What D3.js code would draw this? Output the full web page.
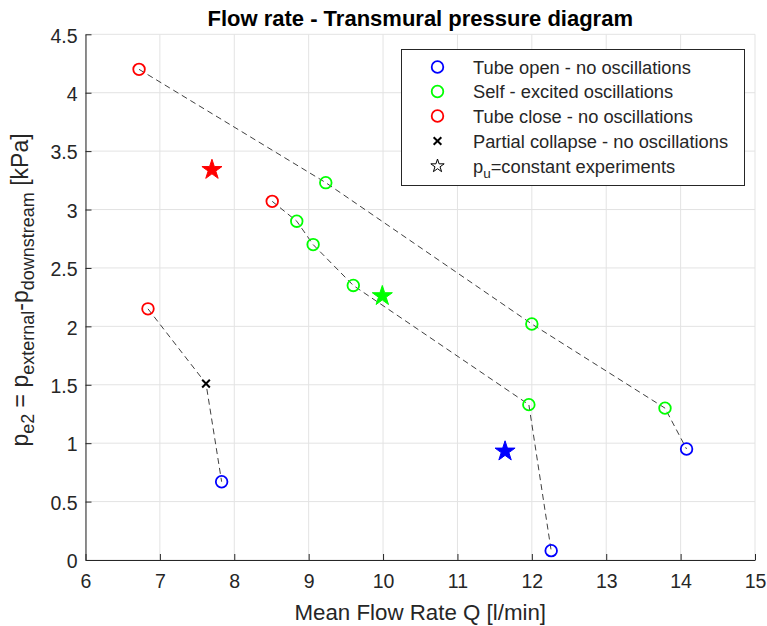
<!DOCTYPE html>
<html>
<head>
<meta charset="utf-8">
<script src="https://cdn.jsdelivr.net/npm/d3@7"></script>
<style>
  html, body { margin: 0; padding: 0; background: #fff; }
  svg { display: block; font-family: "Liberation Sans", Arial, Helvetica, sans-serif; }
</style>
</head>
<body>
<svg id="chart" width="767" height="626"></svg>
<script>
// Measurements: mean flow rate Q [l/min] and transmural pressure p_e2 [kPa]
const openQ = [7.83, 12.26, 14.08];
const openP = [0.67, 0.08, 0.95];
const selfQ = [9.23, 8.84, 9.06, 9.60, 12.00, 11.96, 13.79];
const selfP = [3.23, 2.90, 2.70, 2.35, 2.02, 1.33, 1.30];
const closeQ = [6.72, 8.51, 6.84];
const closeP = [4.20, 3.07, 2.15];
const partialQ = [7.62];
const partialP = [1.51];
const starQ = [7.70, 9.99, 11.64];
const starP = [3.34, 2.26, 0.93];
const starColors = ["#ff0000", "#00ff00", "#0000ff"];

// Dashed paths joining the points of each experiment run
const runAQ = [6.72, 9.23, 12.00, 13.79, 14.08];
const runAP = [4.20, 3.23, 2.02, 1.30, 0.95];
const runBQ = [8.51, 8.84, 9.06, 9.60, 11.96, 12.26];
const runBP = [3.07, 2.90, 2.70, 2.35, 1.33, 0.08];
const runCQ = [6.84, 7.62, 7.83];
const runCP = [2.15, 1.51, 0.67];

const xTicks = [6, 7, 8, 9, 10, 11, 12, 13, 14, 15];
const yTicks = [0, 0.5, 1, 1.5, 2, 2.5, 3, 3.5, 4, 4.5];
const yTickLabels = ["0", "0.5", "1", "1.5", "2", "2.5", "3", "3.5", "4", "4.5"];

const legendLabels = [
  "Tube open - no oscillations",
  "Self - excited oscillations",
  "Tube close - no oscillations",
  "Partial collapse - no oscillations",
  "=constant experiments"
];

const svg = d3.select("#chart");
const plotL = 85.5, plotR = 755, plotT = 34.3, plotB = 560;
const x = d3.scaleLinear().domain([6, 15]).range([plotL, plotR]);
const y = d3.scaleLinear().domain([0, 4.5]).range([plotB, plotT]);
const axisColor = "#262626";

// grid
const grid = svg.append("g");
grid.selectAll("line.vx").data(xTicks).join("line")
  .attr("x1", d => x(d)).attr("x2", d => x(d))
  .attr("y1", plotT).attr("y2", plotB)
  .attr("stroke", "#e3e3e3").attr("stroke-width", 1);
grid.selectAll("line.hy").data(yTicks).join("line")
  .attr("x1", plotL).attr("x2", plotR)
  .attr("y1", d => y(d)).attr("y2", d => y(d))
  .attr("stroke", "#e3e3e3").attr("stroke-width", 1);

// axes (ticks pointing inward)
const xAxis = svg.append("g").attr("transform", `translate(0,${plotB})`)
  .call(d3.axisBottom(x).tickValues(xTicks).tickSizeInner(-6).tickSizeOuter(0).tickPadding(14));
const yAxis = svg.append("g").attr("transform", `translate(${plotL},0)`)
  .call(d3.axisLeft(y).tickValues(yTicks).tickFormat((d, i) => yTickLabels[i]).tickSizeInner(-6).tickSizeOuter(0).tickPadding(14));
[xAxis, yAxis].forEach(g => {
  g.select(".domain").attr("stroke", axisColor).attr("stroke-width", 1);
  g.selectAll(".tick line").attr("stroke", axisColor);
  g.selectAll(".tick text").attr("fill", axisColor).style("font-size", "19.5px")
    .style("font-family", "'Liberation Sans', Arial, sans-serif");
});
yAxis.selectAll(".tick text").attr("dx", "6px").attr("dy", "0.4em");
xAxis.selectAll(".tick text").attr("dy", "0.7em");

// dashed run lines
const line = d3.line().x(d => x(d[0])).y(d => y(d[1]));
[[runAQ, runAP], [runBQ, runBP], [runCQ, runCP]].forEach(([qs, ps]) => {
  svg.append("path")
    .datum(qs.map((q, i) => [q, ps[i]]))
    .attr("d", line)
    .attr("fill", "none")
    .attr("stroke", "#404040")
    .attr("stroke-width", 1)
    .attr("stroke-dasharray", "6,4");
});

// circle markers
function circles(qs, ps, color) {
  svg.append("g").selectAll("circle").data(qs.map((q, i) => [q, ps[i]])).join("circle")
    .attr("cx", d => x(d[0])).attr("cy", d => y(d[1])).attr("r", 5.8)
    .attr("fill", "none").attr("stroke", color).attr("stroke-width", 1.8);
}
circles(openQ, openP, "#0000ff");
circles(selfQ, selfP, "#00ff00");
circles(closeQ, closeP, "#ff0000");

// cross marker
const cross = d3.symbol().type(d3.symbolX).size(40);
svg.append("g").selectAll("path").data(partialQ.map((q, i) => [q, partialP[i]])).join("path")
  .attr("transform", d => `translate(${x(d[0])},${y(d[1])})`)
  .attr("d", cross).attr("fill", "none").attr("stroke", "#000").attr("stroke-width", 2);

// star markers
const star = d3.symbol().type(d3.symbolStar).size(125);
svg.append("g").selectAll("path").data(starQ.map((q, i) => [q, starP[i], starColors[i]])).join("path")
  .attr("transform", d => `translate(${x(d[0])},${y(d[1])})`)
  .attr("d", star).attr("fill", d => d[2]).attr("stroke", d => d[2]).attr("stroke-width", 1);

// title
svg.append("text").attr("x", (plotL + plotR) / 2).attr("y", 26)
  .attr("text-anchor", "middle").attr("fill", "#000")
  .style("font-size", "22px").style("font-weight", "bold")
  .text("Flow rate - Transmural pressure diagram");

// x label
svg.append("text").attr("x", (plotL + plotR) / 2).attr("y", 620)
  .attr("text-anchor", "middle").attr("fill", axisColor)
  .style("font-size", "22.3px")
  .text("Mean Flow Rate Q [l/min]");

// y label with subscripts
const yl = svg.append("text")
  .attr("transform", `translate(28,290) rotate(-90)`)
  .attr("text-anchor", "middle").attr("fill", axisColor)
  .style("font-size", "23px");
yl.append("tspan").text("p");
yl.append("tspan").attr("dy", 6).style("font-size", "18px").text("e2");
yl.append("tspan").attr("dy", -6).text(" = p");
yl.append("tspan").attr("dy", 6).style("font-size", "18px").text("external");
yl.append("tspan").attr("dy", -6).text("-p");
yl.append("tspan").attr("dy", 6).style("font-size", "18px").text("downstream");
yl.append("tspan").attr("dy", -6).text(" [kPa]");

// legend
const lg = svg.append("g");
lg.append("rect").attr("x", 401.5).attr("y", 49.5).attr("width", 343).attr("height", 136)
  .attr("fill", "#fff").attr("stroke", axisColor).attr("stroke-width", 1);
const rowY = [67, 91.5, 116, 141, 166];
const mx = 437.5, tx = 473;
lg.append("circle").attr("cx", mx).attr("cy", rowY[0]).attr("r", 5.8).attr("fill", "none").attr("stroke", "#0000ff").attr("stroke-width", 1.8);
lg.append("circle").attr("cx", mx).attr("cy", rowY[1]).attr("r", 5.8).attr("fill", "none").attr("stroke", "#00ff00").attr("stroke-width", 1.8);
lg.append("circle").attr("cx", mx).attr("cy", rowY[2]).attr("r", 5.8).attr("fill", "none").attr("stroke", "#ff0000").attr("stroke-width", 1.8);
lg.append("path").attr("transform", `translate(${mx},${rowY[3]})`).attr("d", cross)
  .attr("fill", "none").attr("stroke", "#000").attr("stroke-width", 2);
lg.append("path").attr("transform", `translate(${mx},${rowY[4]})`)
  .attr("d", d3.symbol().type(d3.symbolStar).size(55))
  .attr("fill", "none").attr("stroke", "#000").attr("stroke-width", 1);
legendLabels.forEach((t, i) => {
  const el = lg.append("text").attr("x", tx).attr("y", rowY[i] + 6.5)
    .attr("fill", axisColor).style("font-size", "18.3px");
  if (i === 4) {
    el.append("tspan").text("p");
    el.append("tspan").attr("dy", 5).style("font-size", "13.5px").text("u");
    el.append("tspan").attr("dy", -5).text(t);
  } else {
    el.text(t);
  }
});
</script>
</body>
</html>
